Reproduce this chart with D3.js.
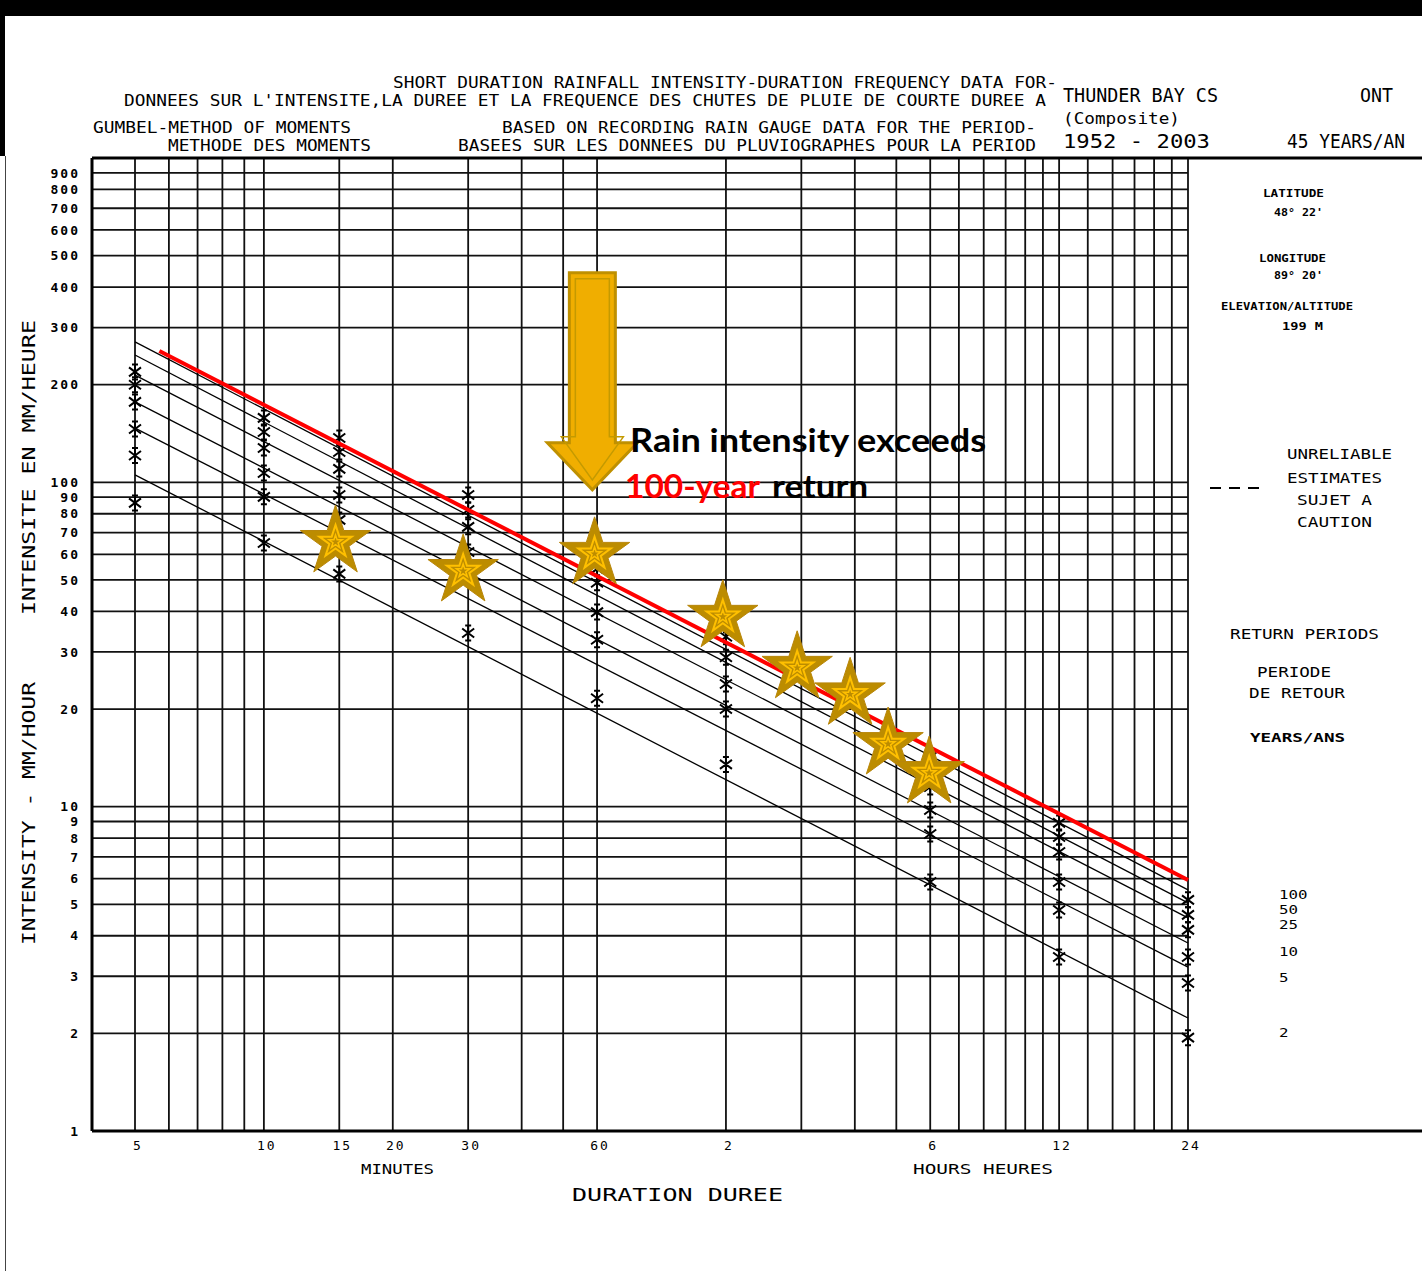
<!DOCTYPE html>
<html>
<head>
<meta charset="utf-8">
<script src="https://cdn.jsdelivr.net/npm/d3@7"></script>
<style>
  body { margin: 0; background: #fff; }
  svg { display: block; }
</style>
</head>
<body>
<div id="chart"></div>
<script>
// durations of the gauge statistics, in minutes
const durations = [5, 10, 15, 30, 60, 120, 360, 720, 1440];
const returnPeriods = [100, 50, 25, 10, 5, 2];

// Gumbel estimates per return period (mm/h)
const est100 = [219, 158, 137, 91.4, 59.3, 36.3, 14.2, 8.91, 5.16];
const est50  = [200, 143, 124, 82.2, 54.1, 33.4, 12.9, 8.06, 4.64];
const est25  = [177, 127.6, 110, 72.9, 49.0, 28.9, 11.5, 7.25, 4.17];
const est10  = [146, 106.9, 91.4, 61.0, 39.8, 23.9, 9.77, 5.86, 3.44];
const est5   = [121, 90.2, 76.6, 50.7, 32.7, 20.0, 8.24, 4.80, 2.86];
const est2   = [86.4, 65.0, 52.2, 34.3, 21.6, 13.5, 5.86, 3.44, 1.94];

// fitted IDF lines: intensity at 5 min and at 24 h
const fitAt5min = [271, 247, 214, 177, 147, 105.4];
const fitAt24h  = [5.54, 5.05, 4.54, 3.80, 3.20, 2.23];

// observed storm (stars)
const stormMinutes   = [14.7, 29.2, 59.2, 118, 176, 234, 287, 358];
const stormIntensity = [65.5, 53.3, 60.2, 38.5, 26.8, 22.2, 15.6, 12.7];

// red hand-drawn 100-year line
const redMinutes   = [5.7, 1440];
const redIntensity = [254, 5.94];

// arrow tip (minutes, mm/h)
const arrowTip = [58.5, 94.8];

// grid and ticks
const xGridMinutes = [5, 6, 7, 8, 9, 10, 15, 20, 30, 40, 50, 60, 120, 180, 240, 300, 360,
  420, 480, 540, 600, 660, 720, 840, 960, 1080, 1200, 1320, 1440];
const yGridValues = [2, 3, 4, 5, 6, 7, 8, 9, 10, 20, 30, 40, 50, 60, 70, 80, 90,
  100, 200, 300, 400, 500, 600, 700, 800, 900];
const yTickValues = [1, 2, 3, 4, 5, 6, 7, 8, 9, 10, 20, 30, 40, 50, 60, 70, 80, 90,
  100, 200, 300, 400, 500, 600, 700, 800, 900];
const xTickValues = [5, 10, 15, 20, 30, 60, 120, 360, 720, 1440];
const xTickLabels = ["5", "10", "15", "20", "30", "60", "2", "6", "12", "24"];

const estimates = [est100, est50, est25, est10, est5, est2];

const width = 1422, height = 1271;
const plotLeft = 92, frameRight = 1422;
const mono = "'DejaVu Sans Mono', 'Liberation Mono', monospace";

const svg = d3.select("#chart").append("svg")
  .attr("width", width)
  .attr("height", height)
  .style("background", "#fff");

const x = d3.scaleLog().domain([5, 1440]).range([135, 1188]);
const y = d3.scaleLog().domain([1, 1000]).range([1131, 158]);

// screenshot edges
svg.append("rect").attr("x", 0).attr("y", 0).attr("width", width).attr("height", 16).attr("fill", "#000");
svg.append("rect").attr("x", 0).attr("y", 0).attr("width", 5).attr("height", 156).attr("fill", "#000");
svg.append("line").attr("x1", 5.5).attr("x2", 5.5).attr("y1", 156).attr("y2", height)
  .attr("stroke", "#444").attr("stroke-width", 1);

function plotText(str, px, py, size, len, opts = {}) {
  const t = svg.append("text")
    .attr("x", px).attr("y", py)
    .attr("font-family", mono)
    .attr("font-size", size)
    .attr("font-weight", opts.bold ? "bold" : "normal")
    .attr("fill", "#000")
    .text(str);
  if (len) t.attr("textLength", len).attr("lengthAdjust", "spacingAndGlyphs");
  if (opts.anchor) t.attr("text-anchor", opts.anchor);
  if (opts.rotate) t.attr("transform", `rotate(-90,${px},${py})`);
  return t;
}

// header
plotText("SHORT DURATION RAINFALL INTENSITY-DURATION FREQUENCY DATA FOR-", 393, 88, 16, 664);
plotText("DONNEES SUR L'INTENSITE,LA DUREE ET LA FREQUENCE DES CHUTES DE PLUIE DE COURTE DUREE A", 124, 106, 16, 922);
plotText("GUMBEL-METHOD OF MOMENTS", 93, 133, 16, 258);
plotText("METHODE DES MOMENTS", 168, 151, 16, 203);
plotText("BASED ON RECORDING RAIN GAUGE DATA FOR THE PERIOD-", 502, 133, 16, 534);
plotText("BASEES SUR LES DONNEES DU PLUVIOGRAPHES POUR LA PERIOD", 458, 151, 16, 578);
plotText("THUNDER BAY CS", 1063, 102, 20, 155);
plotText("(Composite)", 1063, 124, 15, 117);
plotText("1952  -  2003", 1063, 148, 19, 147);
plotText("ONT", 1360, 102, 20, 33);
plotText("45 YEARS/AN", 1287, 148, 19, 118);

// grid
const grid = svg.append("g").attr("stroke", "#111").attr("stroke-width", 1.8);
grid.selectAll("line.h").data(yGridValues).join("line")
  .attr("class", "h")
  .attr("x1", plotLeft).attr("x2", x(1440))
  .attr("y1", d => y(d)).attr("y2", d => y(d));
grid.selectAll("line.v").data(xGridMinutes).join("line")
  .attr("class", "v")
  .attr("x1", d => x(d)).attr("x2", d => x(d))
  .attr("y1", y(1000)).attr("y2", y(1));

// frame
const frame = svg.append("g").attr("stroke", "#000").attr("stroke-width", 3);
frame.append("line").attr("x1", plotLeft).attr("x2", frameRight).attr("y1", y(1000)).attr("y2", y(1000));
frame.append("line").attr("x1", plotLeft).attr("x2", frameRight).attr("y1", y(1)).attr("y2", y(1));
frame.append("line").attr("x1", plotLeft).attr("x2", plotLeft).attr("y1", y(1000)).attr("y2", y(1));

// y tick labels
svg.append("g").selectAll("text").data(yTickValues).join("text")
  .attr("x", 80).attr("y", d => y(d)).attr("dy", "0.36em")
  .attr("text-anchor", "end")
  .attr("font-family", mono).attr("font-size", 13).attr("font-weight", "bold")
  .attr("letter-spacing", 2)
  .text(d => d);

// x tick labels
svg.append("g").selectAll("text").data(xTickValues).join("text")
  .attr("x", d => x(d) + 3).attr("y", 1150)
  .attr("text-anchor", "middle")
  .attr("font-family", mono).attr("font-size", 13)
  .attr("letter-spacing", 2)
  .text((d, i) => xTickLabels[i]);

plotText("MINUTES", 361, 1174, 14, 73);
plotText("HOURS  HEURES", 913, 1174, 14, 140);
plotText("DURATION  DUREE", 572, 1201, 17, 211);

// y axis titles
plotText("INTENSITE EN MM/HEURE", 35, 615, 18, 295, { rotate: true });
plotText("INTENSITY - MM/HOUR", 35, 945, 18, 263, { rotate: true });

// right panel
plotText("LATITUDE", 1263, 197, 11, 61, { bold: true });
plotText("48° 22'", 1274, 216, 11, 49, { bold: true });
plotText("LONGITUDE", 1259, 262, 11, 67, { bold: true });
plotText("89° 20'", 1274, 279, 11, 49, { bold: true });
plotText("ELEVATION/ALTITUDE", 1221, 310, 11, 132, { bold: true });
plotText("199 M", 1282, 330, 11, 41, { bold: true });
plotText("UNRELIABLE", 1287, 459, 14, 105);
plotText("ESTIMATES", 1287, 483, 14, 95);
plotText("SUJET A", 1297, 505, 14, 75);
plotText("CAUTION", 1297, 527, 14, 75);
svg.append("line").attr("x1", 1210).attr("x2", 1259).attr("y1", 488).attr("y2", 488)
  .attr("stroke", "#000").attr("stroke-width", 1.8).attr("stroke-dasharray", "11,8");
plotText("RETURN PERIODS", 1230, 639, 14, 149);
plotText("PERIODE", 1257, 677, 14, 74);
plotText("DE RETOUR", 1249, 698, 14, 96);
plotText("YEARS/ANS", 1250, 742, 12, 95, { bold: true });

svg.append("g").selectAll("text").data(returnPeriods).join("text")
  .attr("x", 1279)
  .attr("y", (d, i) => y(estimates[i][estimates[i].length - 1]) - 1)
  .attr("font-family", mono).attr("font-size", 12)
  .attr("textLength", d => String(d).length * 9.5)
  .attr("lengthAdjust", "spacingAndGlyphs")
  .text(d => d);

// fitted lines
const fitLine = d3.line().x(d => x(d[0])).y(d => y(d[1]));
svg.append("g").selectAll("path").data(returnPeriods).join("path")
  .attr("d", (d, i) => fitLine([[5, fitAt5min[i]], [1440, fitAt24h[i]]]))
  .attr("fill", "none").attr("stroke", "#000").attr("stroke-width", 1.3);

// estimate markers
function asterisk(s) {
  return `M0,${-s}V${s}M${-s * 0.8},${-s * 0.6}L${s * 0.8},${s * 0.6}M${-s * 0.8},${s * 0.6}L${s * 0.8},${-s * 0.6}` +
    `M${-s * 0.4},${-s}H${s * 0.4}M${-s * 0.4},${s}H${s * 0.4}`;
}
const pts = [];
estimates.forEach(series => series.forEach((v, j) => pts.push([durations[j], v])));
svg.append("g").selectAll("path").data(pts).join("path")
  .attr("transform", d => `translate(${x(d[0])},${y(d[1])})`)
  .attr("d", asterisk(7.5))
  .attr("fill", "none").attr("stroke", "#000").attr("stroke-width", 2);

// red 100-year line
svg.append("path")
  .attr("d", fitLine(redMinutes.map((m, i) => [m, redIntensity[i]])))
  .attr("fill", "none").attr("stroke", "#ff0000").attr("stroke-width", 4);

// arrow
const ax = x(arrowTip[0]), ay = y(arrowTip[1]);
const arrowOuter = [[-23, -217], [23, -217], [23, -47], [45, -47], [0, 0], [-45, -47], [-23, -47]];
const arrowInner = [[-17, -211], [17, -211], [17, -53], [31, -53], [0, -10], [-31, -53], [-17, -53]];
const poly = p => p.map(q => [ax + q[0], ay + q[1]].join(",")).join(" ");
svg.append("polygon").attr("points", poly(arrowOuter))
  .attr("fill", "#f0ae00").attr("stroke", "#bf9000").attr("stroke-width", 3);
svg.append("polygon").attr("points", poly(arrowInner))
  .attr("fill", "none").attr("stroke", "#c49a00").attr("stroke-width", 1.5);

// stars
function starPath(R) {
  const r = R * 0.382;
  const p = d3.range(10).map(i => {
    const a = -Math.PI / 2 + i * Math.PI / 5;
    const rad = i % 2 ? r : R;
    return [rad * Math.cos(a), rad * Math.sin(a)];
  });
  return "M" + p.map(q => q.join(",")).join("L") + "Z";
}
const stars = svg.append("g").selectAll("g").data(stormMinutes).join("g")
  .attr("transform", (d, i) => `translate(${x(d)},${y(stormIntensity[i])})`);
stars.append("path").attr("d", starPath(37))
  .attr("fill", "#bc8c00").attr("stroke", "#b8860b").attr("stroke-width", 1);
stars.append("path").attr("d", starPath(17))
  .attr("fill", "none").attr("stroke", "#ffc000").attr("stroke-width", 2);
stars.append("path").attr("d", starPath(7))
  .attr("fill", "none").attr("stroke", "#ffc000").attr("stroke-width", 1.5);

// annotation
const note = "Lato, 'Open Sans', sans-serif";
svg.append("text").attr("x", 630).attr("y", 452)
  .attr("font-family", note).attr("font-weight", "bold").attr("font-size", 33)
  .attr("textLength", 356).attr("lengthAdjust", "spacingAndGlyphs")
  .attr("fill", "#000").text("Rain intensity exceeds");
svg.append("text").attr("x", 625).attr("y", 498)
  .attr("font-family", note).attr("font-weight", "bold").attr("font-size", 33)
  .attr("textLength", 135).attr("lengthAdjust", "spacingAndGlyphs")
  .attr("fill", "#ff0000").text("100-year");
svg.append("text").attr("x", 772).attr("y", 498)
  .attr("font-family", note).attr("font-weight", "bold").attr("font-size", 33)
  .attr("textLength", 96).attr("lengthAdjust", "spacingAndGlyphs")
  .attr("fill", "#000").text("return");
</script>
</body>
</html>
